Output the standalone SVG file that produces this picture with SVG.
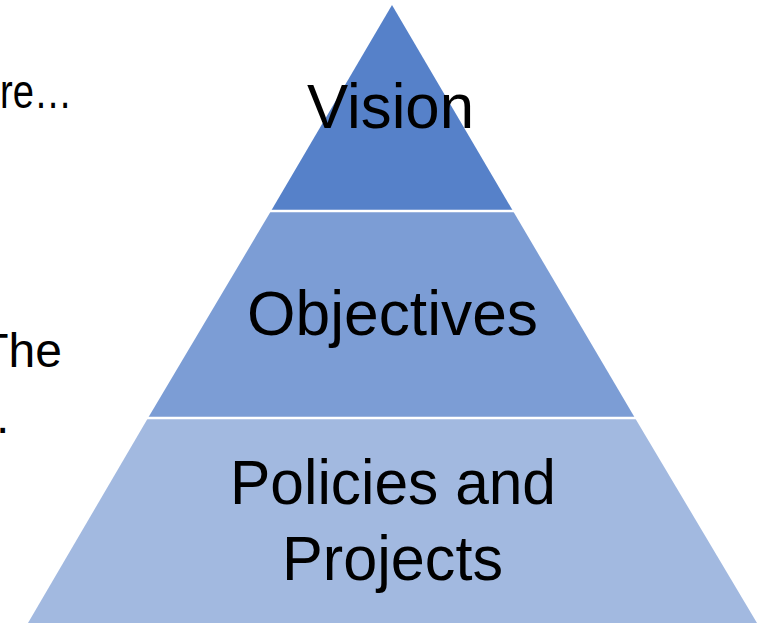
<svg xmlns="http://www.w3.org/2000/svg" width="760" height="623" viewBox="0 0 760 623">
<style>
.lbl{font-family:"Liberation Sans",Arial,sans-serif;fill:#000;text-anchor:middle;font-size:63px}
.side{font-family:"Liberation Sans",Arial,sans-serif;fill:#000;font-size:48px}
.sep{stroke:#fff;stroke-width:2.5}
</style>
<rect width="760" height="623" fill="#fff"/>
<g id="side-text">
<text class="side" x="0" y="108" textLength="72" lengthAdjust="spacingAndGlyphs">re…</text>
<text class="side" x="62" y="367" text-anchor="end">The</text>
<text class="side" x="-4" y="433">.</text>
</g>
<g id="vision">
<polygon points="392,5 271,211 513,211" fill="#5681C9"/>
<text class="lbl" x="390.5" y="128" textLength="167" lengthAdjust="spacingAndGlyphs">Vision</text>
</g>
<g id="objectives">
<polygon points="271,211 513,211 635,418 148,418" fill="#7C9DD5"/>
<text class="lbl" x="392.5" y="335" textLength="291" lengthAdjust="spacingAndGlyphs">Objectives</text>
</g>
<g id="policies">
<polygon points="148,418 635,418 757,623 28,623" fill="#A2B9E0"/>
<text class="lbl" x="393" y="504" textLength="326" lengthAdjust="spacingAndGlyphs">Policies and</text>
<text class="lbl" x="392.5" y="580" textLength="221" lengthAdjust="spacingAndGlyphs">Projects</text>
</g>
<g id="connectors">
<line class="sep" x1="265" y1="211" x2="519" y2="211"/>
<line class="sep" x1="142" y1="418" x2="641" y2="418"/>
</g>
</svg>
